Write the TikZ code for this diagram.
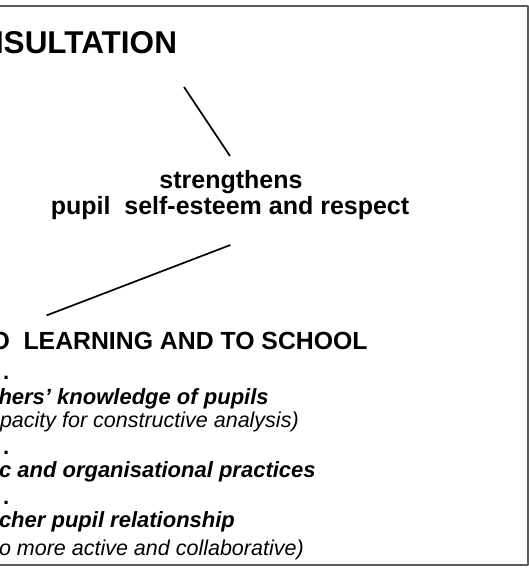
\documentclass[tikz,border=0pt]{standalone}
\usepackage{fontspec}
\setmainfont{Liberation Sans}
\usepackage[x11names, rgb]{xcolor}
\usepackage{tikz}
\usetikzlibrary{arrows,shapes}

\begin{document}
\begin{tikzpicture}[line join=bevel,
  every node/.style={inner sep=0pt,outer sep=0pt},
  title/.style={anchor=base west,font=\fontsize{31.5bp}{36bp}\selectfont\bfseries},
  verb/.style={anchor=base,font=\fontsize{25bp}{30bp}\selectfont\bfseries},
  head/.style={anchor=base west,font=\fontsize{24.8bp}{29bp}\selectfont\bfseries},
  item/.style={anchor=base west,font=\fontsize{22bp}{26bp}\selectfont\bfseries\itshape},
  note/.style={anchor=base west,font=\fontsize{21.5bp}{26bp}\selectfont\itshape},
  gap/.style={anchor=base west,font=\fontsize{22bp}{26bp}\selectfont\bfseries},
  link/.style={line width=1.7bp},
  frame/.style={line width=2bp,draw=framecol},]
\definecolor{framecol}{rgb}{0.36,0.36,0.36};
\useasboundingbox (0bp,0bp) rectangle (529bp,574bp);
\clip (0bp,0bp) rectangle (529bp,574bp);
%%
  % Frame
  \draw[frame] (-10bp,8.5bp) -- (527.5bp,8.5bp) -- (527.5bp,568bp) -- (-10bp,568bp);
  % Node: consult
  \node[title] (consult) at (-19bp,520bp) {NSULTATION};
  % Node: strength
  \node[verb] (strength) at (231bp,385bp) {strengthens};
  \node[verb] (esteem) at (230bp,359bp) {pupil\ \ self-esteem and respect};
  % Node: attitude
  \node[head] (attitude) at (-9.5bp,224.5bp) {O\ \ LEARNING AND TO SCHOOL};
  % Node: dots and items
  \node[gap] (dota) at (3bp,194bp) {.};
  \node[item] (know) at (-1.5bp,169bp) {hers’ knowledge of pupils};
  \node[note] (knownote) at (0bp,146bp) {pacity for constructive analysis)};
  \node[gap] (dotb) at (3bp,119bp) {.};
  \node[item] (practice) at (-1bp,96bp) {c and organisational practices};
  \node[gap] (dotc) at (3bp,69bp) {.};
  \node[item] (relation) at (-1bp,46bp) {cher pupil relationship};
  \node[note] (relnote) at (-1bp,19bp) {o more active and collaborative)};
  % Edge: consult -> strength
  \coordinate (ea) at (184bp,487bp);
  \coordinate (eb) at (230bp,418bp);
  \draw[link] (ea) -- (eb);
  % Edge: esteem -> attitude
  \coordinate (ec) at (230.4bp,329bp);
  \coordinate (ed) at (46.6bp,258.6bp);
  \draw[link] (ec) -- (ed);
%
\end{tikzpicture}
\end{document}
